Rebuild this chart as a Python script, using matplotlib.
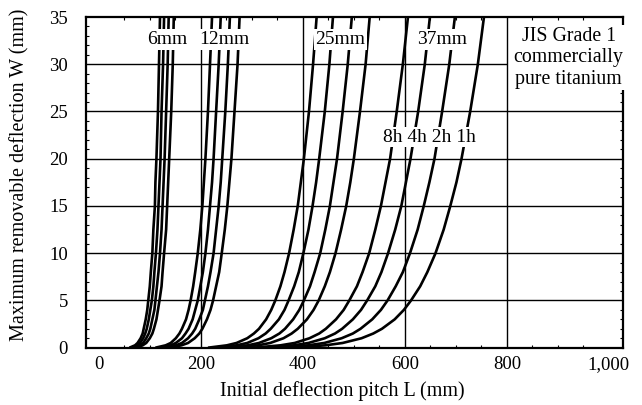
import matplotlib
matplotlib.use("Agg")
import matplotlib.pyplot as plt
from matplotlib.ticker import MultipleLocator

plt.rcParams['font.family'] = ['Liberation Serif', 'DejaVu Serif']

w_levels = [0, 0.25, 0.5, 1, 1.5, 2, 3, 4, 5, 6.5, 8, 10, 12.5, 15, 17.5,
            20, 25, 30, 35]

# pitch L (mm) per curve: order 8h, 4h, 2h, 1h
L_6mm = [
    [60, 71, 76, 82, 86, 88, 92, 95, 97, 100, 102, 105, 107, 110, 111, 113, 116, 118, 120],
    [64, 75, 81, 87, 91, 94, 98, 101, 104, 107, 109, 112, 115, 117, 119, 121, 123, 126, 128],
    [69, 81, 87, 93, 98, 101, 105, 109, 111, 114, 117, 120, 123, 125, 127, 129, 132, 135, 137],
    [74, 86, 93, 100, 105, 108, 113, 116, 119, 123, 125, 128, 132, 134, 136, 138, 142, 145, 147],
]
L_12mm = [
    [111, 131, 141, 151, 158, 163, 171, 176, 180, 185, 189, 194, 199, 203, 206, 209, 214, 218, 222],
    [120, 141, 151, 163, 170, 176, 184, 189, 194, 199, 204, 209, 214, 218, 222, 225, 230, 235, 239],
    [129, 151, 163, 175, 183, 189, 197, 204, 208, 214, 219, 225, 230, 235, 239, 242, 248, 253, 257],
    [138, 162, 175, 188, 197, 203, 212, 219, 224, 230, 236, 241, 247, 252, 256, 260, 266, 272, 276],
]
L_25mm = [
    [214, 251, 270, 291, 304, 314, 328, 338, 346, 356, 364, 373, 382, 390, 396, 402, 412, 420, 427],
    [230, 270, 291, 313, 327, 337, 353, 364, 372, 383, 392, 401, 411, 419, 426, 432, 443, 452, 459],
    [248, 292, 314, 338, 354, 365, 381, 393, 402, 414, 423, 434, 444, 453, 460, 467, 478, 488, 496],
    [266, 312, 336, 362, 378, 390, 408, 421, 431, 443, 453, 464, 475, 485, 493, 500, 512, 523, 531],
]
L_37mm = [
    [303, 356, 384, 413, 432, 445, 465, 480, 491, 506, 517, 530, 542, 553, 562, 571, 584, 596, 606],
    [325, 382, 411, 443, 463, 477, 498, 514, 526, 542, 554, 567, 581, 593, 602, 611, 626, 639, 649],
    [349, 410, 442, 476, 498, 513, 536, 553, 566, 582, 596, 610, 625, 637, 648, 658, 673, 687, 698],
    [378, 444, 478, 515, 538, 555, 580, 598, 612, 630, 644, 660, 676, 689, 701, 711, 728, 743, 755],
]

groups = [L_6mm, L_12mm, L_25mm, L_37mm]
group_labels = ["6mm", "12mm", "25mm", "37mm"]
group_label_x = [134, 247, 474, 673]
time_label = "8h 4h 2h 1h"

fig = plt.figure(figsize=(6.42, 4.05), dpi=100)
ax = fig.add_axes([0.134, 0.1415, 0.836, 0.8165])
xmin, xmax = -25, 1027

for L in [200, 400, 600, 800]:
    ax.axvline(L, color='black', lw=1.0, zorder=1)
for W in [5, 10, 15, 20, 25]:
    ax.hlines(W, xmin, xmax, color='black', lw=1.0, zorder=1)
# the W=30 line stops where the material note starts
ax.hlines(30, xmin, 800, color='black', lw=1.0, zorder=1)

for grp in groups:
    for curve in grp:
        ax.plot(curve, w_levels, color='black', lw=1.9, zorder=2,
                solid_capstyle='butt', solid_joinstyle='round')

box = dict(facecolor='white', edgecolor='none', pad=1.2)
for lab, x in zip(group_labels, group_label_x):
    ax.text(x, 32.6, lab, ha='center', va='center', fontsize=14,
            bbox=box, zorder=5)
ax.text(648, 22.3, time_label, ha='center', va='center', fontsize=14,
        bbox=box, zorder=5)
ax.text(921, 30.7, "JIS Grade 1\ncommercially\npure titanium",
        ha='center', va='center', fontsize=14.3, linespacing=1.18,
        bbox=dict(facecolor='white', edgecolor='none', pad=0.8), zorder=5,
        clip_on=False)

ax.set_xlim(xmin, xmax)
ax.set_ylim(0, 35)
ax.set_xticks([0, 200, 400, 600, 800, 1000])
ax.set_xticklabels(["0", "200", "400", "600", "800", "1,000"])
ax.set_yticks([0, 5, 10, 15, 20, 25, 30, 35])
ax.xaxis.set_minor_locator(MultipleLocator(50))
ax.yaxis.set_minor_locator(MultipleLocator(1))
ax.tick_params(which='major', length=0, labelsize=13.5)
ax.tick_params(axis='x', which='major', pad=6)
ax.tick_params(axis='y', which='major', pad=13)
ax.tick_params(which='minor', direction='in', length=2.5, width=0.8,
               top=True, right=True)
for s in ax.spines.values():
    s.set_linewidth(1.6)
    s.set_zorder(4)

ax.set_xlabel("Initial deflection pitch L (mm)", fontsize=14.5)
ax.set_ylabel("Maximum removable deflection W (mm)", fontsize=14.5)
ax.xaxis.set_label_coords(0.478, -0.100)
ax.yaxis.set_label_coords(-0.105, 0.523)

fig.savefig("out.png", dpi=100)
